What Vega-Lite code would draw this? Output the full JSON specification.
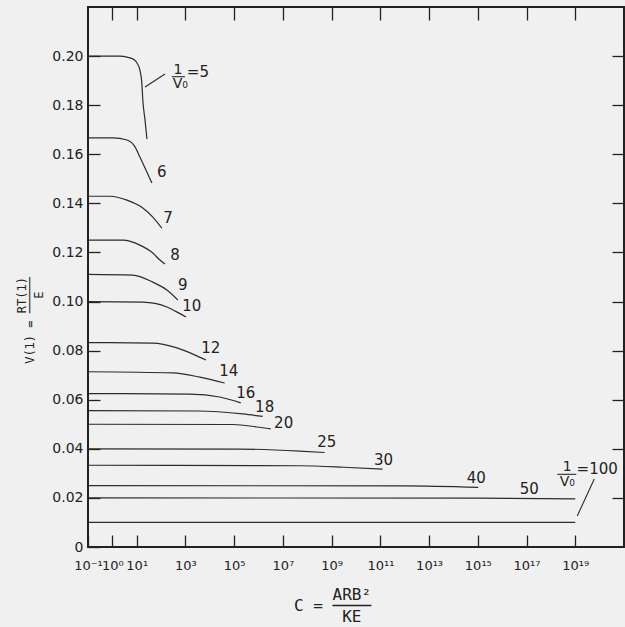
{
  "$schema": "https://vega.github.io/schema/vega-lite/v6.json",
  "width": 536,
  "height": 540,
  "autosize": {"type": "none"},
  "padding": {"left": 88, "top": 7, "right": 1, "bottom": 80},
  "background": "#f0f0f0",
  "config": {
    "view": {"stroke": "#222", "strokeWidth": 2},
    "axis": {"grid": false, "domain": false, "tickColor": "#222", "tickWidth": 1.3, "labelColor": "#222", "titleColor": "#222", "labelFont": "DejaVu Sans", "titleFont": "DejaVu Sans Mono", "titleFontWeight": "normal"}
  },
  "datasets": {
    "curves": [
      {"n": 5, "x": 0.1, "y": 0.2}, {"n": 5, "x": 1.995, "y": 0.2}, {"n": 5, "x": 4.365, "y": 0.1995}, {"n": 5, "x": 7.943, "y": 0.1985}, {"n": 5, "x": 10.23, "y": 0.1972}, {"n": 5, "x": 13.49, "y": 0.1943}, {"n": 5, "x": 16.22, "y": 0.189}, {"n": 5, "x": 17.78, "y": 0.1821}, {"n": 5, "x": 21.88, "y": 0.1739}, {"n": 5, "x": 26.3, "y": 0.1662},
      {"n": 6, "x": 0.1, "y": 0.1667}, {"n": 6, "x": 1.047, "y": 0.1667}, {"n": 6, "x": 3.981, "y": 0.1658}, {"n": 6, "x": 8.511, "y": 0.163}, {"n": 6, "x": 13.49, "y": 0.1589}, {"n": 6, "x": 26.3, "y": 0.1527}, {"n": 6, "x": 41.69, "y": 0.1483},
      {"n": 7, "x": 0.1, "y": 0.1429}, {"n": 7, "x": 0.794, "y": 0.1429}, {"n": 7, "x": 3.981, "y": 0.1413}, {"n": 7, "x": 17.78, "y": 0.1381}, {"n": 7, "x": 45.71, "y": 0.1344}, {"n": 7, "x": 107.2, "y": 0.1299},
      {"n": 8, "x": 0.1, "y": 0.125}, {"n": 8, "x": 2.692, "y": 0.125}, {"n": 8, "x": 13.49, "y": 0.123}, {"n": 8, "x": 45.71, "y": 0.1198}, {"n": 8, "x": 89.13, "y": 0.1169}, {"n": 8, "x": 144.5, "y": 0.1153},
      {"n": 9, "x": 0.1, "y": 0.1111}, {"n": 9, "x": 6.918, "y": 0.1108}, {"n": 9, "x": 45.71, "y": 0.1079}, {"n": 9, "x": 173.8, "y": 0.1047}, {"n": 9, "x": 489.8, "y": 0.1006},
      {"n": 10, "x": 0.1, "y": 0.1}, {"n": 10, "x": 17.78, "y": 0.0998}, {"n": 10, "x": 173.8, "y": 0.0978}, {"n": 10, "x": 398.1, "y": 0.096}, {"n": 10, "x": 1047, "y": 0.0937},
      {"n": 12, "x": 0.1, "y": 0.0833}, {"n": 12, "x": 45.71, "y": 0.0831}, {"n": 12, "x": 446.7, "y": 0.0811}, {"n": 12, "x": 1995, "y": 0.0786}, {"n": 12, "x": 6918, "y": 0.0762},
      {"n": 14, "x": 0.1, "y": 0.0714}, {"n": 14, "x": 302, "y": 0.0709}, {"n": 14, "x": 3890, "y": 0.0692}, {"n": 14, "x": 40740, "y": 0.0668},
      {"n": 16, "x": 0.1, "y": 0.0625}, {"n": 16, "x": 1514, "y": 0.0623}, {"n": 16, "x": 25700, "y": 0.0611}, {"n": 16, "x": 186200, "y": 0.0587},
      {"n": 18, "x": 0.1, "y": 0.0556}, {"n": 18, "x": 3162, "y": 0.0554}, {"n": 18, "x": 223900, "y": 0.0542}, {"n": 18, "x": 1479000, "y": 0.0532},
      {"n": 20, "x": 0.1, "y": 0.05}, {"n": 20, "x": 87100, "y": 0.0499}, {"n": 20, "x": 851100, "y": 0.0489}, {"n": 20, "x": 3162000, "y": 0.0481},
      {"n": 25, "x": 0.1, "y": 0.04}, {"n": 25, "x": 158500, "y": 0.0399}, {"n": 25, "x": 48980000, "y": 0.0391}, {"n": 25, "x": 512900000, "y": 0.0385},
      {"n": 30, "x": 0.1, "y": 0.0333}, {"n": 30, "x": 50120000, "y": 0.0331}, {"n": 30, "x": 3162000000, "y": 0.0325}, {"n": 30, "x": 123000000000, "y": 0.0317},
      {"n": 40, "x": 0.1, "y": 0.025}, {"n": 40, "x": 1e12, "y": 0.0249}, {"n": 40, "x": 1.047e15, "y": 0.0243},
      {"n": 50, "x": 0.1, "y": 0.02}, {"n": 50, "x": 1e15, "y": 0.0199}, {"n": 50, "x": 1e19, "y": 0.0196},
      {"n": 100, "x": 0.1, "y": 0.01}, {"n": 100, "x": 1e19, "y": 0.01}
    ],
    "labels": [
      {"t": "6", "x": 107.2, "y": 0.1527},
      {"t": "7", "x": 190.5, "y": 0.134},
      {"t": "8", "x": 371.5, "y": 0.1189},
      {"t": "9", "x": 776.2, "y": 0.1067},
      {"t": "10", "x": 1820, "y": 0.0982},
      {"t": "12", "x": 10960, "y": 0.0811},
      {"t": "14", "x": 60260, "y": 0.0717},
      {"t": "16", "x": 302000, "y": 0.0627},
      {"t": "18", "x": 1778000, "y": 0.057},
      {"t": "20", "x": 10720000, "y": 0.0505},
      {"t": "25", "x": 631000000, "y": 0.0428},
      {"t": "30", "x": 134900000000, "y": 0.0354},
      {"t": "40", "x": 8.71e14, "y": 0.0281},
      {"t": "50", "x": 1.288e17, "y": 0.0236},
      {"t": "=5", "x": 3236, "y": 0.1935},
      {"t": "=100", "x": 7.943e19, "y": 0.0318}
    ],
    "frac": [
      {"t": "1", "x": 489.8, "y": 0.1945},
      {"t": "V₀", "x": 616.6, "y": 0.1885},
      {"t": "1", "x": 4.677e18, "y": 0.0326},
      {"t": "V₀", "x": 4.677e18, "y": 0.0265}
    ],
    "segs": [
      {"x": 21.88, "x2": 144.5, "y": 0.1874, "y2": 0.1927},
      {"x": 275.4, "x2": 955, "y": 0.1916, "y2": 0.1916},
      {"x": 1.202e19, "x2": 6.026e19, "y": 0.0126, "y2": 0.0277},
      {"x": 1.82e18, "x2": 1.096e19, "y": 0.0296, "y2": 0.0296}
    ]
  },
  "layer": [
    {
      "data": {"name": "curves"},
      "mark": {"type": "line", "interpolate": "monotone", "stroke": "#2b2b2b", "strokeWidth": 1.2},
      "encoding": {
        "detail": {"field": "n", "type": "nominal"},
        "x": {
          "field": "x", "type": "quantitative",
          "scale": {"type": "log", "domain": [0.1, 1e21], "nice": false},
          "axis": {
            "orient": "bottom",
            "values": [0.1, 1, 10, 1000, 100000, 10000000, 1000000000, 100000000000, 1e13, 1e15, 1e17, 1e19],
            "labelExpr": "'10' + {'-1':'\u207b\u00b9','0':'\u2070','1':'\u00b9','3':'\u00b3','5':'\u2075','7':'\u2077','9':'\u2079','11':'\u00b9\u00b9','13':'\u00b9\u00b3','15':'\u00b9\u2075','17':'\u00b9\u2077','19':'\u00b9\u2079'}['' + round(log(datum.value)/LN10)]",
            "labelFontSize": 13,
            "labelOverlap": false,
            "labelFlush": false,
            "labelBound": false,
            "tickSize": -12,
            "labelPadding": 24,
            "title": ["\u200b\u00a0\u00a0\u00a0\u00a0ARB\u00b2", "C\u00a0=\u00a0\u2500\u2500\u2500\u2500", "\u200b\u00a0\u00a0\u00a0\u00a0\u00a0KE\u00a0\u200b"],
            "titleFontSize": 16,
            "titleLineHeight": 11,
            "titleBaseline": "middle",
            "titleX": 244,
            "titleY": 47
          }
        },
        "y": {
          "field": "y", "type": "quantitative",
          "scale": {"domain": [0, 0.22], "nice": false, "zero": true},
          "axis": {
            "orient": "left",
            "values": [0, 0.02, 0.04, 0.06, 0.08, 0.1, 0.12, 0.14, 0.16, 0.18, 0.2],
            "labelExpr": "datum.value == 0 ? '0' : format(datum.value, '.2f')",
            "labelFontSize": 14,
            "labelFlush": false,
            "labelOverlap": false,
            "tickSize": -12,
            "labelPadding": 17,
            "title": ["\u200b\u00a0\u00a0\u00a0\u00a0\u00a0\u00a0\u00a0RT(1)", "V(1)\u00a0=\u00a0\u2500\u2500\u2500\u2500\u2500", "\u200b\u00a0\u00a0\u00a0\u00a0\u00a0\u00a0\u00a0\u00a0\u00a0E\u00a0\u00a0\u200b"],
            "titleFontSize": 12,
            "titleLineHeight": 8.5,
            "titleBaseline": "middle",
            "titleAngle": -90,
            "titleX": -67,
            "titleY": 313
          }
        }
      }
    },
    {
      "data": {"name": "segs"},
      "mark": {"type": "rule", "stroke": "#2b2b2b", "strokeWidth": 1.1},
      "encoding": {
        "x": {
          "field": "x", "type": "quantitative",
          "scale": {"type": "log", "domain": [0.1, 1e21], "nice": false},
          "axis": {"orient": "top", "labels": false, "title": null, "tickSize": -13, "values": [1, 10, 1000, 100000, 10000000, 1000000000, 100000000000, 1e13, 1e15, 1e17, 1e19]}
        },
        "x2": {"field": "x2"},
        "y": {
          "field": "y", "type": "quantitative",
          "scale": {"domain": [0, 0.22], "nice": false},
          "axis": {"orient": "right", "labels": false, "title": null, "tickSize": -12, "values": [0.02, 0.04, 0.06, 0.08, 0.1, 0.12, 0.14, 0.16, 0.18, 0.2]}
        },
        "y2": {"field": "y2"}
      }
    },
    {
      "data": {"name": "labels"},
      "mark": {"type": "text", "font": "DejaVu Sans", "fontSize": 15, "fill": "#222", "align": "center", "baseline": "middle"},
      "encoding": {
        "x": {"field": "x", "type": "quantitative", "scale": {"type": "log", "domain": [0.1, 1e21], "nice": false}, "axis": null},
        "y": {"field": "y", "type": "quantitative", "scale": {"domain": [0, 0.22], "nice": false}, "axis": null},
        "text": {"field": "t", "type": "nominal"}
      }
    },
    {
      "data": {"name": "frac"},
      "mark": {"type": "text", "font": "DejaVu Sans", "fontSize": 14, "fill": "#222", "align": "center", "baseline": "middle"},
      "encoding": {
        "x": {"field": "x", "type": "quantitative", "scale": {"type": "log", "domain": [0.1, 1e21], "nice": false}, "axis": null},
        "y": {"field": "y", "type": "quantitative", "scale": {"domain": [0, 0.22], "nice": false}, "axis": null},
        "text": {"field": "t", "type": "nominal"}
      }
    }
  ],
  "resolve": {"axis": {"x": "independent", "y": "independent"}}
}
